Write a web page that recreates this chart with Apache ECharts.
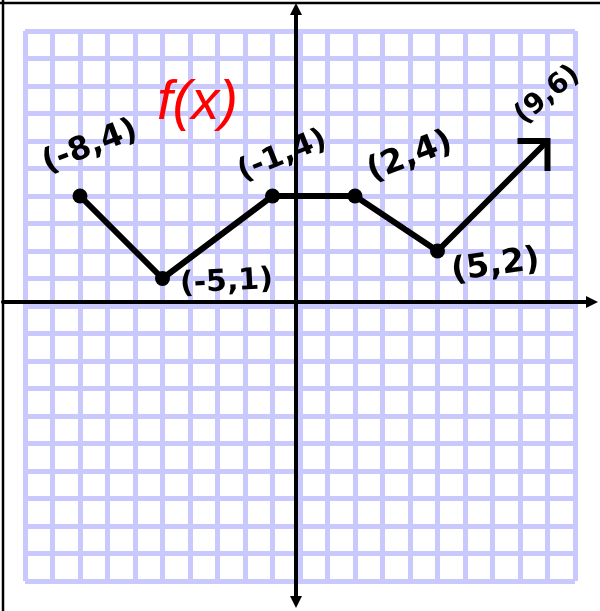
<!DOCTYPE html>
<html>
<head>
<meta charset="utf-8">
<script src="https://cdn.jsdelivr.net/npm/echarts@6/dist/echarts.min.js"></script>
<style>
  html, body { margin: 0; padding: 0; background: #fff; }
  #chart { width: 600px; height: 611px; }
</style>
</head>
<body>
<div id="chart"></div>
<script>
// the corners of f(x), last one is the end of the arrow
const xValues = [-8, -5, -1, 2, 5, 9]
const yValues = [4, 1, 4, 4, 2, 6]
// graph paper goes from -10 to 10 both ways
const gridRange = [-10, 10]
const titleText = 'f(x)'

const chart = echarts.init(document.getElementById('chart'))

// where the hand written labels sit on screen: [dx, dy, rotate, fontSize]
// (the last one is measured from the shifted arrow symbol)
const labelPlace = [
  [10, -49, 21, 32],
  [64, 4, 3, 30],
  [10, -40, 22, 30],
  [55, -39, 21, 33],
  [58, 15, 8, 33],
  [15, -61, 40, 28]
]

// echarts applies the label offset after rotating, so turn it back first
function localOffset(dx, dy, deg) {
  const r = deg * Math.PI / 180
  return [dx * Math.cos(r) - dy * Math.sin(r), dx * Math.sin(r) + dy * Math.cos(r)]
}

const points = xValues.map((x, i) => {
  const p = labelPlace[i]
  const item = {
    value: [x, yValues[i]],
    label: { offset: localOffset(p[0], p[1], p[2]), rotate: p[2], fontSize: p[3] }
  }
  // arrow head (open chevron) on the last point
  if (i === xValues.length - 1) {
    item.symbol = 'path://M0,0 L10,0 L10,10'
    item.symbolSize = 30
    item.symbolOffset = [-15, 15]
    item.itemStyle = { color: 'transparent', borderColor: '#000', borderWidth: 6 }
  }
  return item
})

const hidden = { show: false }

chart.setOption({
  animation: false,
  title: {
    text: titleText,
    left: 157,
    top: 75,
    padding: 0,
    textStyle: {
      color: '#ff0000',
      fontSize: 56,
      fontStyle: 'italic',
      fontWeight: 'normal',
      fontFamily: 'Liberation Sans'
    }
  },
  graphic: [
    { type: 'line', shape: { x1: 3, y1: 0, x2: 3, y2: 611 }, style: { stroke: '#000', lineWidth: 2.5 } },
    { type: 'line', shape: { x1: 0, y1: 3, x2: 600, y2: 3 }, style: { stroke: '#000', lineWidth: 2.5 } }
  ],
  grid: [
    { left: 25, top: 31, width: 550, height: 550 },
    // second grid only carries the long black axes with arrows
    { left: 3, right: 8, top: 9, bottom: 9 }
  ],
  xAxis: [
    {
      type: 'value',
      gridIndex: 0,
      min: gridRange[0],
      max: gridRange[1],
      interval: 1,
      axisLine: hidden,
      axisTick: hidden,
      axisLabel: hidden,
      splitLine: { show: true, lineStyle: { color: '#c9c9fd', width: 5 } }
    },
    {
      type: 'value',
      gridIndex: 1,
      min: -293,
      max: 296,
      axisLine: {
        onZero: true,
        symbol: ['none', 'triangle'],
        symbolSize: [12, 12],
        lineStyle: { color: '#000', width: 4 }
      },
      axisTick: hidden,
      axisLabel: hidden,
      splitLine: hidden
    }
  ],
  yAxis: [
    {
      type: 'value',
      gridIndex: 0,
      min: gridRange[0],
      max: gridRange[1],
      interval: 1,
      axisLine: hidden,
      axisTick: hidden,
      axisLabel: hidden,
      splitLine: { show: true, lineStyle: { color: '#c9c9fd', width: 5 } }
    },
    {
      type: 'value',
      gridIndex: 1,
      min: -300,
      max: 293,
      axisLine: {
        onZero: true,
        symbol: ['triangle', 'triangle'],
        symbolSize: [12, 12],
        lineStyle: { color: '#000', width: 4 }
      },
      axisTick: hidden,
      axisLabel: hidden,
      splitLine: hidden
    }
  ],
  series: [
    {
      type: 'line',
      xAxisIndex: 0,
      yAxisIndex: 0,
      data: points,
      symbol: 'circle',
      symbolSize: 15,
      itemStyle: { color: '#000' },
      lineStyle: { color: '#000', width: 6 },
      label: {
        show: true,
        position: 'inside',
        color: '#000',
        fontWeight: 'bold',
        fontFamily: 'DejaVu Sans',
        formatter: p => '(' + p.value[0] + ',' + p.value[1] + ')'
      },
      z: 5
    }
  ]
})
</script>
</body>
</html>
